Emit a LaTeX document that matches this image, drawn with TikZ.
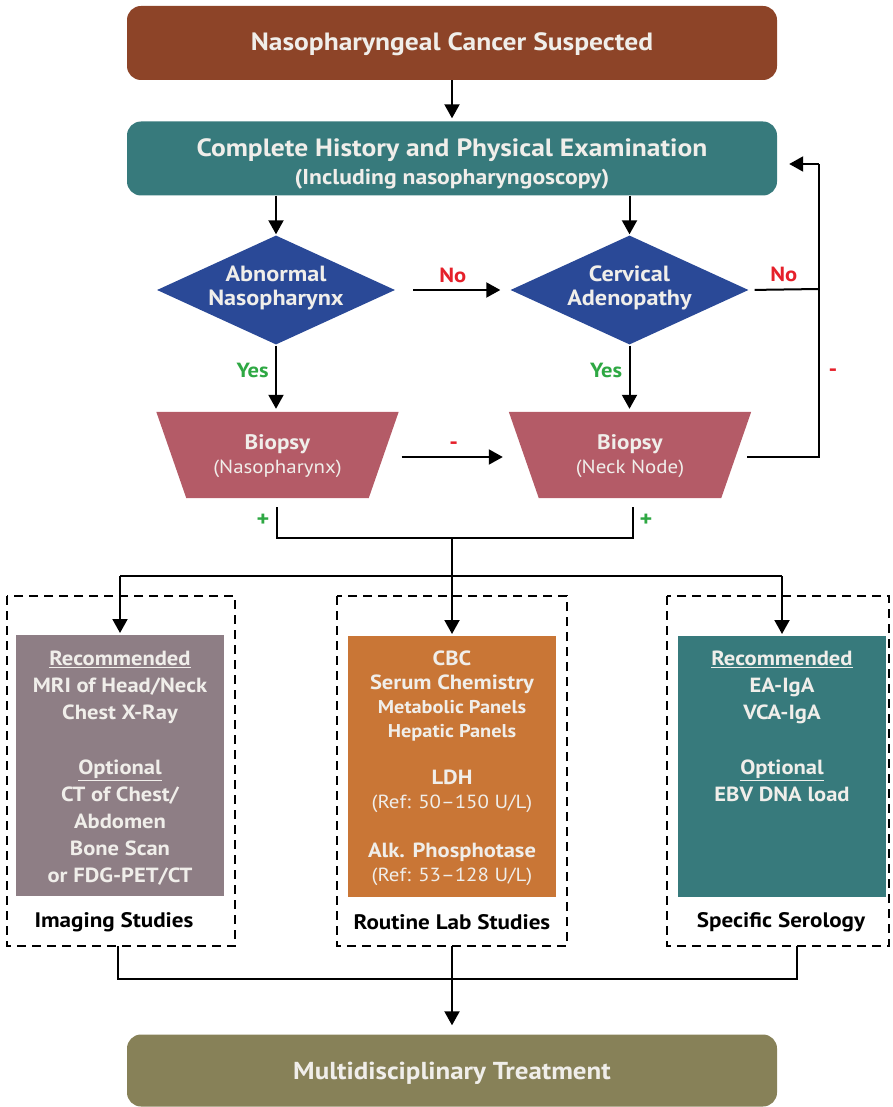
\documentclass[tikz,border=0pt]{standalone}
\usepackage{fontspec}
\setmainfont{PT Sans}[FakeStretch=1.1]
\usetikzlibrary{shapes.geometric,arrows.meta,calc}

\definecolor{cBrown}{HTML}{8D4428}
\definecolor{cTeal}{HTML}{377A7C}
\definecolor{cBlue}{HTML}{2A4997}
\definecolor{cRose}{HTML}{B45B67}
\definecolor{cMauve}{HTML}{8E7E85}
\definecolor{cOrange}{HTML}{C97636}
\definecolor{cOlive}{HTML}{878158}
\definecolor{cRed}{HTML}{E5202A}
\definecolor{cGreen}{HTML}{2EA843}
\definecolor{cText}{HTML}{F0EEEA}

\tikzset{
  wide/.style={rectangle, rounded corners=14pt, minimum width=650pt,
    minimum height=74pt, inner sep=0pt},
  widetext/.style={text=cText, align=center, inner sep=0pt,
    font=\bfseries\fontsize{25}{28}\selectfont},
  decision/.style={diamond, fill=cBlue, minimum width=238pt, minimum height=109pt,
    aspect=2.2, inner sep=0pt},
  dectext/.style={text=cText, align=center, inner sep=0pt,
    font=\bfseries\fontsize{22}{24}\selectfont},
  biopsy/.style={rectangle, minimum width=212pt, minimum height=86pt,
    inner sep=0pt, text=cText, align=center,
    font=\bfseries\fontsize{21}{24}\selectfont},
  trap/.style={fill=cRose},
  study/.style={rectangle, minimum width=208pt, minimum height=261pt,
    inner sep=0pt, anchor=north},
  studytext/.style={anchor=north, inner sep=0pt, text=cText, align=center,
    font=\bfseries\fontsize{20.5}{27}\selectfont},
  frame/.style={draw=black, dashed, dash pattern=on 9pt off 6pt, line width=2pt},
  caption/.style={font=\bfseries\fontsize{21}{24}\selectfont, text=black},
  arr/.style={line width=2pt, -{Triangle[length=14pt,width=15pt]}},
  ln/.style={line width=2pt},
  no/.style={text=cRed, font=\bfseries\fontsize{20.5}{22}\selectfont},
  yes/.style={text=cGreen, font=\bfseries\fontsize{20.5}{22}\selectfont},
  sign/.style={font=\bfseries\fontsize{22}{22}\selectfont},
}
\newcommand{\subline}[1]{{\fontsize{21.5}{28}\selectfont #1}}
\newcommand{\refline}[1]{{\mdseries\fontsize{19}{24}\selectfont #1}}
\newcommand{\smline}[1]{{\fontsize{18.5}{24}\selectfont #1}}
\newcommand{\ul}[1]{\underline{#1}}

\begin{document}
\begin{tikzpicture}[x=1pt, y=-1pt]
\useasboundingbox (0,0) rectangle (892,1107);

% main stages
\node[wide, fill=cBrown] (suspect) at (452,43) {};
\node[widetext, anchor=base] (suspecttext) at (452,51) {Nasopharyngeal Cancer Suspected};
\node[wide, fill=cTeal] (exam) at (452,158.5) {};
\node[widetext] (examtext) at (452,164)
  {Complete History and Physical Examination\\\subline{(Including nasopharyngoscopy)}};

% decisions
\node[decision] (abn) at (276,290) {};
\node[decision] (cerv) at (629.5,290) {};
\node[dectext] (abntext) at (276,288) {Abnormal\\Nasopharynx};
\node[dectext] (cervtext) at (629.5,288) {Cervical\\Adenopathy};

% biopsies: trapezoids wider at the top
\node[biopsy] (bnp) at (277.5,455) {};
\node[biopsy] (bnk) at (630,455) {};
\fill[trap] ($(bnp.north west)+(-15,0)$) -- ($(bnp.north east)+(15,0)$)
  -- ($(bnp.south east)+(-15,0)$) -- ($(bnp.south west)+(15,0)$) -- cycle;
\fill[trap] ($(bnk.north west)+(-15,0)$) -- ($(bnk.north east)+(15,0)$)
  -- ($(bnk.south east)+(-15,0)$) -- ($(bnk.south west)+(15,0)$) -- cycle;
\node[biopsy] (bnptext) at (277.5,456) {Biopsy\\\refline{(Nasopharynx)}};
\node[biopsy] (bnktext) at (630,456) {Biopsy\\\refline{(Neck Node)}};

% work-up groups
\draw[frame] (7,596) rectangle (235,946);
\draw[frame] (337,596) rectangle (567,946);
\draw[frame] (667,596) rectangle (889,946);

\node[study, fill=cMauve] (img) at (120,635) {};
\node[study, fill=cOrange] (lab) at (452,636) {};
\node[study, fill=cTeal] (sero) at (782,636) {};

\node[studytext] (imgtext) at ($(img.north)+(0,16)$)
  {\ul{Recommended}\\MRI of Head/Neck\\Chest X-Ray\\[28pt]\ul{Optional}\\CT of Chest/\\Abdomen\\Bone Scan\\or FDG-PET/CT};
\node[studytext, font=\bfseries\fontsize{20.5}{24}\selectfont] (labtext) at ($(lab.north)+(0,15)$)
  {CBC\\Serum Chemistry\\\smline{Metabolic Panels}\\\smline{Hepatic Panels}\\[23pt]LDH\\\refline{(Ref: 50–150 U/L)}\\[25pt]Alk. Phosphotase\\\refline{(Ref: 53–128 U/L)}};
\node[studytext] (serotext) at ($(sero.north)+(0,15)$)
  {\ul{Recommended}\\EA-IgA\\VCA-IgA\\[28pt]\ul{Optional}\\EBV DNA load};

\node[caption] (capimg) at (114,922) {Imaging Studies};
\node[caption] (caplab) at (452,922) {Routine Lab Studies};
\node[caption] (capser) at (781,922) {Specific Serology};

\node[wide, fill=cOlive, minimum height=72pt] (treat) at (452,1070.5) {};
\node[widetext, anchor=base, font=\bfseries\fontsize{24.5}{27}\selectfont]
  (treattext) at (452,1079) {Multidisciplinary Treatment};

% junction points
\coordinate (loopTop) at (819,164);
\coordinate (loopNo) at (819,289);
\coordinate (loopBot) at (819,456.5);
\coordinate (mergeL) at (277,538);
\coordinate (mergeR) at (633,538);
\coordinate (splitC) at (452,538);
\coordinate (branch) at (452,576);
\coordinate (joinC) at (452,979);

% connectors
\draw[arr, shorten >=3pt] (suspect.south) -- (exam.north);
\draw[arr, shorten >=1pt] (exam.south -| abn.north) -- (abn.north);
\draw[arr, shorten >=1pt] (exam.south -| cerv.north) -- (cerv.north);

\draw[arr, shorten <=18pt, shorten >=10pt] (abn.east) -- node[no, above=3pt] {No} (cerv.west);
\draw[ln, shorten <=6pt] (cerv.east) -- node[no, above=3pt] {No} (loopNo);
\draw[ln] ($(bnk.east |- loopBot)+(11,0)$) -- (loopBot) -- (loopTop);
\draw[arr, shorten >=12pt] (loopTop) -- (exam.east |- loopTop);
\node[sign, text=cRed] (minusR) at (833,373) {-};

\draw[arr, shorten <=1pt, shorten >=3pt] (abn.south) -- node[yes, left=3pt, pos=0.38] {Yes} (bnp.north -| abn.south);
\draw[arr, shorten <=1pt, shorten >=3pt] (cerv.south) -- node[yes, left=3pt, pos=0.38] {Yes} (bnk.north -| cerv.south);

\draw[arr, shorten <=18pt, shorten >=21pt] (bnp.east |- 0,457) -- node[sign, text=cRed, above=3pt] {-} (bnk.west |- 0,457);

\draw[ln] (277,507) -- (mergeL) -- (mergeR) -- (633,507);
\node[sign, text=cGreen] (plusL) at (263,520) {+};
\node[sign, text=cGreen] (plusR) at (646,520) {+};

\draw[ln] (splitC) -- (branch);
\draw[ln] (branch -| img.north) -- (branch -| sero.north);
\draw[arr, shorten >=2pt] (branch -| img.north) -- (img.north);
\draw[arr, shorten >=2pt] (branch) -- (lab.north);
\draw[arr, shorten >=2pt] (branch -| sero.north) -- (sero.north);

\draw[ln] (118,946) -- (118,979) -- (797,979) -- (797,946);
\draw[ln] (452,946) -- (joinC);
\draw[arr, shorten >=9pt] (joinC) -- (treat.north);
\end{tikzpicture}
\end{document}
